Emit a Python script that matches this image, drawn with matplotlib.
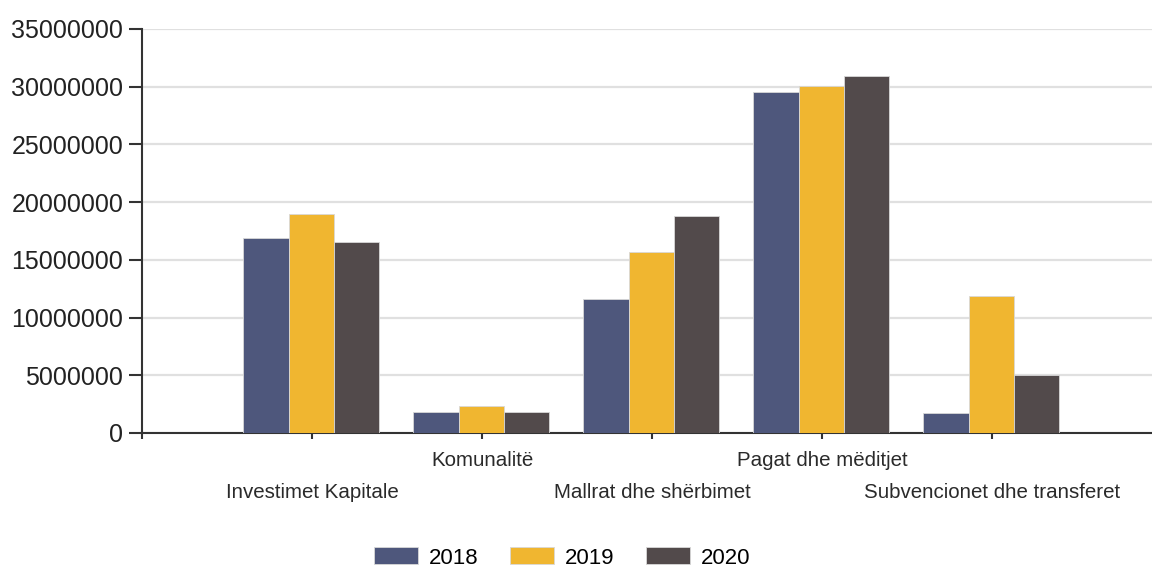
import numpy as np
import matplotlib
matplotlib.use('Agg')
import matplotlib.pyplot as plt
import matplotlib.transforms as mtransforms

plt.rcParams['font.family'] = ['Liberation Sans', 'DejaVu Sans']

# data
categories = ['Investimet Kapitale', 'Komunalitë', 'Mallrat dhe shërbimet',
              'Pagat dhe mëditjet', 'Subvencionet dhe transferet']
years = ['2018', '2019', '2020']
v2018 = [16860000, 1800000, 11650000, 29520000, 1770000]
v2019 = [18970000, 2310000, 15650000, 30040000, 11880000]
v2020 = [16510000, 1800000, 18790000, 30960000, 5060000]
colors = ['#4e577c', '#f0b630', '#524a4b']

fig = plt.figure(figsize=(11.52, 5.68), dpi=100)
ax = fig.add_axes([0.1233, 0.2377, 0.8767, 0.7113])

x = np.arange(len(categories))
w = 0.267
for ii, (vals, col, yr) in enumerate(zip([v2018, v2019, v2020], colors, years)):
    ax.bar(x + (ii - 1) * w - 0.005, vals, width=w, color=col, label=yr,
           edgecolor='#d8d8d8', linewidth=0.6, zorder=3)

ax.set_xlim(-1, 4.94)
ax.set_ylim(0, 35000000)
ax.set_yticks(np.arange(0, 35000001, 5000000))
ax.set_yticklabels([str(v) for v in range(0, 35000001, 5000000)])
ax.yaxis.grid(True, color='#e0e0e0', linewidth=1.6, zorder=0)
ax.set_axisbelow(True)

ax.set_xticks(np.arange(-1, 5))
ax.set_xticklabels([])
ax.tick_params(axis='y', length=9.5, width=1.5, color='#333333',
               labelsize=18, labelcolor='#222222', pad=4)
ax.tick_params(axis='x', length=4, width=1.5, color='#333333')

for s in ['top', 'right']:
    ax.spines[s].set_visible(False)
for s in ['left', 'bottom']:
    ax.spines[s].set_color('#333333')
    ax.spines[s].set_linewidth(1.5)

# staggered category labels
trans = mtransforms.blended_transform_factory(ax.transData, fig.transFigure)
for ii, cat in enumerate(categories):
    ypos = 1 - 493 / 568 if ii % 2 == 0 else 1 - 461 / 568
    ax.text(x[ii], ypos, cat, transform=trans, ha='center', va='center',
            fontsize=14.8, color='#2a2a2a')

fig.legend(loc='center', bbox_to_anchor=(0.488, 1 - 558 / 568), ncol=3,
           frameon=False, fontsize=16, handlelength=1.98, handleheight=0.77,
           handletextpad=0.5, columnspacing=1.4)

fig.savefig('out.png', dpi=100)
